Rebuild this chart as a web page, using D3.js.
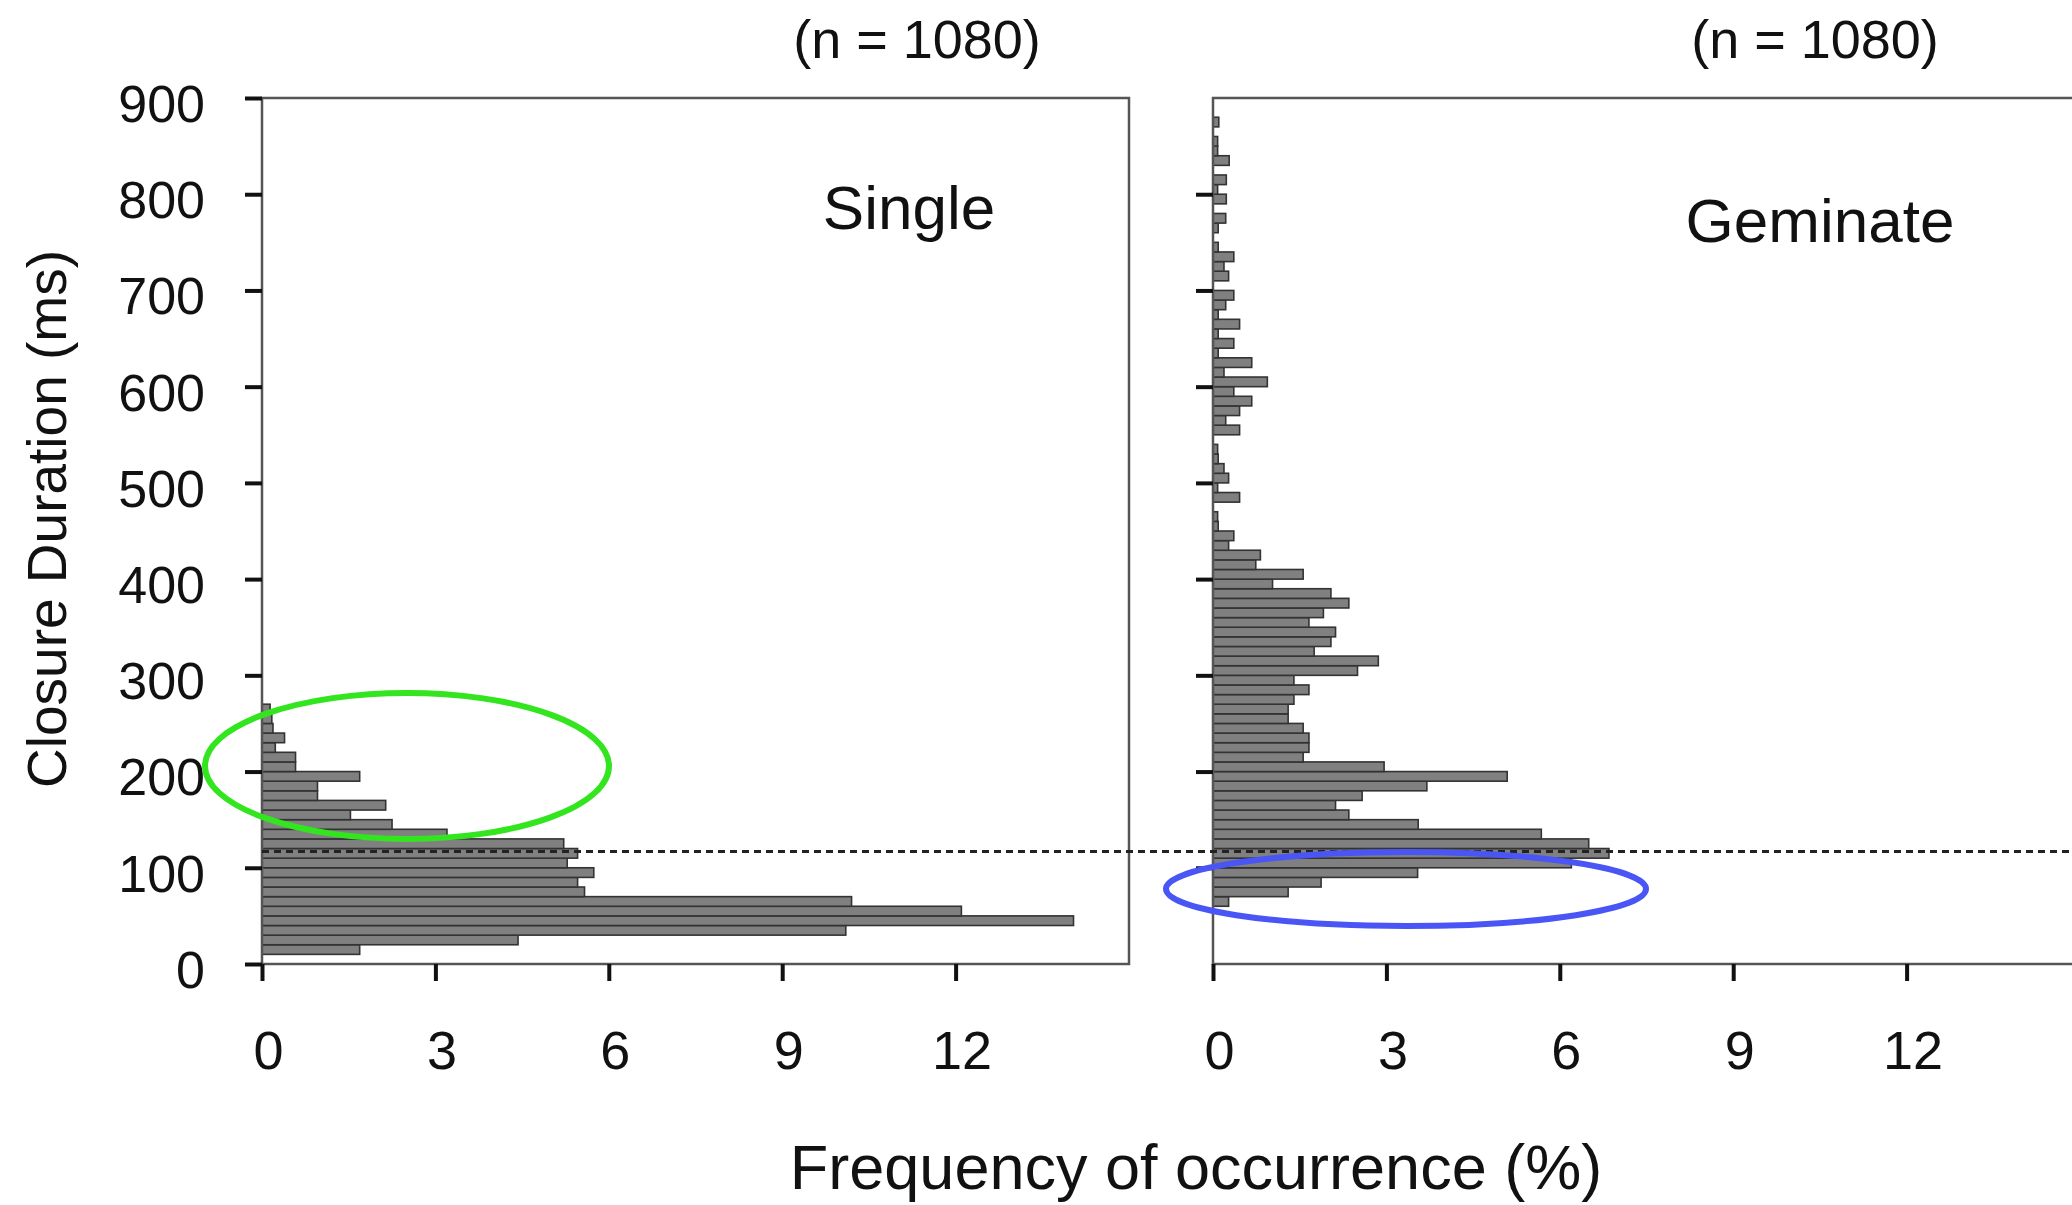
<!DOCTYPE html>
<html>
<head>
<meta charset="utf-8">
<script src="https://cdn.jsdelivr.net/npm/d3@7"></script>
<style>
  body { margin: 0; background: #fff; }
  text { font-family: "Liberation Sans", Arial, sans-serif; fill: #111; }
</style>
</head>
<body>
<svg id="chart" width="2072" height="1205"></svg>
<script>
// 10 ms bins, lower edge in ms, frequency in %
const singleBins = [10, 20, 30, 40, 50, 60, 70, 80, 90, 100, 110, 120, 130, 140, 150, 160, 170, 180, 190, 200, 210, 220, 230, 240, 250, 260]
const singleFreq = [1.69, 4.43, 10.1, 14.04, 12.1, 10.2, 5.58, 5.46, 5.74, 5.28, 5.46, 5.22, 3.2, 2.25, 1.53, 2.14, 0.96, 0.96, 1.69, 0.58, 0.58, 0.23, 0.39, 0.19, 0.17, 0.14]

const gemBins = [60, 70, 80, 90, 100, 110, 120, 130, 140, 150, 160, 170, 180, 190, 200, 210, 220, 230, 240, 250,
  260, 270, 280, 290, 300, 310, 320, 330, 340, 350, 360, 370, 380, 390, 400, 410, 420, 430, 440, 450,
  460, 480, 490, 500, 510, 520, 530, 550, 560, 570, 580, 590, 600, 610, 620, 630, 640, 650, 660, 670,
  680, 690, 710, 720, 730, 740, 760, 770, 790, 800, 810, 830, 840, 850, 870]
const gemFreq = [0.27, 1.3, 1.87, 3.54, 6.2, 6.85, 6.5, 5.68, 3.55, 2.35, 2.12, 2.58, 3.7, 5.09, 2.96, 1.56, 1.66, 1.66, 1.56, 1.3,
  1.3, 1.4, 1.66, 1.4, 2.5, 2.86, 1.75, 2.04, 2.12, 1.66, 1.91, 2.35, 2.04, 1.03, 1.56, 0.74, 0.82, 0.27, 0.36, 0.09,
  0.08, 0.46, 0.08, 0.27, 0.19, 0.09, 0.08, 0.46, 0.22, 0.46, 0.67, 0.36, 0.94, 0.19, 0.67, 0.09, 0.36, 0.09, 0.46, 0.09,
  0.22, 0.36, 0.27, 0.19, 0.36, 0.09, 0.09, 0.22, 0.23, 0.08, 0.23, 0.28, 0.08, 0.08, 0.1]

const yTicks = [0, 100, 200, 300, 400, 500, 600, 700, 800, 900]
const xTicks = [0, 3, 6, 9, 12]
const threshold = 117
const panels = [
  { name: 'Single', n: '(n = 1080)', bins: singleBins, freq: singleFreq, x0: 262, labels: true, nx: 655, tx: 647, ty: 229 },
  { name: 'Geminate', n: '(n = 1080)', bins: gemBins, freq: gemFreq, x0: 1213, labels: false, nx: 602, tx: 607, ty: 242 },
]

const svg = d3.select('#chart')
const plotTop = 98, plotBottom = 964, pw = 867
const y = d3.scaleLinear().domain([0, 900]).range([plotBottom, plotTop])

panels.forEach(p => {
  const x = d3.scaleLinear().domain([0, 15]).range([p.x0, p.x0 + pw])
  const g = svg.append('g')

  g.selectAll('rect.bar')
    .data(p.bins.map((b, i) => ({ b, v: p.freq[i] })))
    .join('rect')
    .attr('x', x(0))
    .attr('y', d => y(d.b + 10))
    .attr('width', d => x(d.v) - x(0))
    .attr('height', d => y(d.b) - y(d.b + 10))
    .attr('fill', '#808080')
    .attr('stroke', '#333')
    .attr('stroke-width', 1.6)

  // frame
  g.append('rect')
    .attr('x', x(0)).attr('y', plotTop)
    .attr('width', pw).attr('height', plotBottom - plotTop)
    .attr('fill', 'none').attr('stroke', '#555').attr('stroke-width', 2.5)

  const yAxis = g.append('g')
    .attr('transform', `translate(${x(0)},0)`)
    .call(d3.axisLeft(y).tickValues(yTicks).tickSize(17).tickPadding(40)
      .tickFormat(p.labels ? d3.format('d') : ''))
  yAxis.select('.domain').remove()
  yAxis.selectAll('line').attr('stroke', '#111').attr('stroke-width', 4)
  yAxis.selectAll('text').style('font-size', '52px').attr('dy', '0.45em')
  if (!p.labels) yAxis.selectAll('.tick').filter(d => d === 0 || d === 900).remove()

  const xAxis = g.append('g')
    .attr('transform', `translate(0,${plotBottom})`)
    .call(d3.axisBottom(x).tickValues(xTicks).tickSize(17).tickPadding(50))
  xAxis.select('.domain').remove()
  xAxis.selectAll('line').attr('stroke', '#111').attr('stroke-width', 4)
  xAxis.selectAll('text').style('font-size', '54px').attr('dx', '6')

  g.append('text')
    .attr('x', x(0) + p.nx).attr('y', 58)
    .attr('text-anchor', 'middle').style('font-size', '54px')
    .text(p.n)

  g.append('text')
    .attr('x', x(0) + p.tx).attr('y', p.ty)
    .attr('text-anchor', 'middle').style('font-size', '62px')
    .text(p.name)
})

// threshold line across both panels
svg.append('line')
  .attr('x1', 262).attr('x2', 2072)
  .attr('y1', y(threshold)).attr('y2', y(threshold))
  .attr('stroke', '#222').attr('stroke-width', 3).attr('stroke-dasharray', '7,5')

// annotation ellipses
svg.append('ellipse')
  .attr('cx', 407).attr('cy', 766).attr('rx', 202).attr('ry', 73)
  .attr('fill', 'none').attr('stroke', '#33e51f').attr('stroke-width', 6)
svg.append('ellipse')
  .attr('cx', 1406).attr('cy', 889).attr('rx', 240).attr('ry', 37)
  .attr('fill', 'none').attr('stroke', '#4a55f5').attr('stroke-width', 6)

svg.append('text')
  .attr('x', 1196).attr('y', 1189)
  .attr('text-anchor', 'middle').style('font-size', '63px')
  .text('Frequency of occurrence (%)')

svg.append('text')
  .attr('transform', 'translate(66,519) rotate(-90)')
  .attr('text-anchor', 'middle').style('font-size', '55px')
  .text('Closure Duration (ms)')
</script>
</body>
</html>
